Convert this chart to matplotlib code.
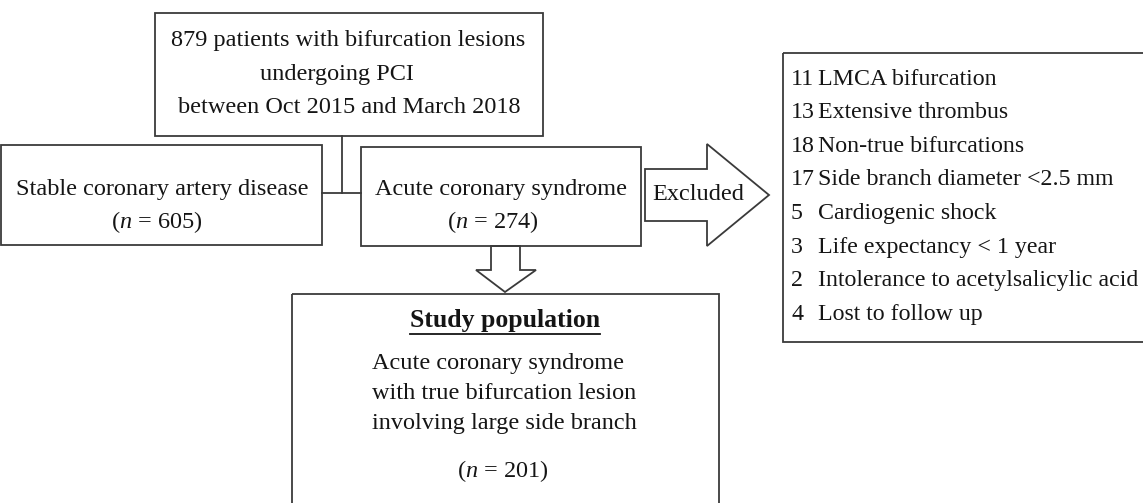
import matplotlib
matplotlib.use("Agg")
import matplotlib.pyplot as plt
from matplotlib.patches import Rectangle, Polygon

plt.rcParams['font.family'] = ['Liberation Serif', 'DejaVu Serif']
plt.rcParams['mathtext.fontset'] = 'custom'
plt.rcParams['mathtext.rm'] = 'Liberation Serif'
plt.rcParams['mathtext.it'] = 'Liberation Serif:italic'

# ---- content ----
top_lines = ["879 patients with bifurcation lesions", "undergoing PCI", "between Oct 2015 and March 2018"]
stable_label = "Stable coronary artery disease"
stable_n = 605
acs_label = "Acute coronary syndrome"
acs_n = 274
excluded_label = "Excluded"
excl_counts = [11, 13, 18, 17, 5, 3, 2, 4]
excl_reasons = ["LMCA bifurcation", "Extensive thrombus", "Non-true bifurcations",
                "Side branch diameter <2.5 mm", "Cardiogenic shock",
                "Life expectancy < 1 year", "Intolerance to acetylsalicylic acid",
                "Lost to follow up"]
study_title = "Study population"
study_lines = ["Acute coronary syndrome", "with true bifurcation lesion", "involving large side branch"]
study_n = 201

W, H = 1143, 503
fig = plt.figure(figsize=(W / 100, H / 100), dpi=100)
ax = fig.add_axes([0, 0, 1, 1])
ax.set_xlim(0, W)
ax.set_ylim(H, 0)
ax.axis('off')

LC = '#3a3a3a'
TC = '#151515'
LW = 1.3
FS = 17.5
FS_EX = 17.2

def box(x0, y0, x1, y1):
    ax.add_patch(Rectangle((x0, y0), x1 - x0, y1 - y0, fill=False, ec=LC, lw=LW))

def ntext(n):
    return r"($\mathit{n}$ = %d)" % n

# top box
box(155, 13, 543, 136)
for y, t, x in zip([40, 74, 107], top_lines, [348, 337, 349]):
    ax.text(x, y, t, ha='center', va='center', fontsize=FS, color=TC)

# connectors
ax.plot([342, 342], [136, 193], color=LC, lw=LW)
ax.plot([322, 361], [193, 193], color=LC, lw=LW)

# stable box
box(1, 145, 322, 245)
ax.text(162, 190, stable_label, ha='center', va='center', fontsize=FS, color=TC)
ax.text(157, 222, ntext(stable_n), ha='center', va='center', fontsize=FS, color=TC)

# acs box
box(361, 147, 641, 246)
ax.text(501, 190, acs_label, ha='center', va='center', fontsize=FS, color=TC)
ax.text(493, 222, ntext(acs_n), ha='center', va='center', fontsize=FS, color=TC)

# down arrow
ax.add_patch(Polygon([(491, 246), (520, 246), (520, 270), (536, 270), (505, 292),
                      (476, 270), (491, 270)], closed=True, fill=False, ec=LC, lw=LW))

# excluded arrow
ax.add_patch(Polygon([(645, 169), (707, 169), (707, 144), (769, 195), (707, 246),
                      (707, 221), (645, 221)], closed=True, fill=False, ec=LC, lw=LW))
ax.text(698, 194, excluded_label, ha='center', va='center', fontsize=FS, color=TC)

# exclusion box
box(783, 53, 1160, 342)
for i, (c, r) in enumerate(zip(excl_counts, excl_reasons)):
    y = 79 + i * 33.6
    ax.text(791, y, str(c), ha='left', va='center', fontsize=FS_EX, color=TC)
    ax.text(818, y, r, ha='left', va='center', fontsize=FS_EX, color=TC)

# study box
box(292, 294, 719, 520)
tt = ax.text(505, 320, study_title, ha='center', va='center', fontsize=FS + 1,
             fontweight='bold', color=TC)
for i, t in enumerate(study_lines):
    ax.text(372, 364 + i * 29.5, t, ha='left', va='center', fontsize=FS, color=TC)
ax.text(503, 471, ntext(study_n), ha='center', va='center', fontsize=FS, color=TC)

# underline of title
fig.canvas.draw()
bb = tt.get_window_extent(renderer=fig.canvas.get_renderer())
inv = ax.transData.inverted()
(x0, _), (x1, _) = inv.transform([(bb.x0, bb.y0), (bb.x1, bb.y0)])
ax.plot([x0, x1], [334, 334], color=TC, lw=1.3)

fig.savefig('out.png', dpi=100, facecolor='white')
